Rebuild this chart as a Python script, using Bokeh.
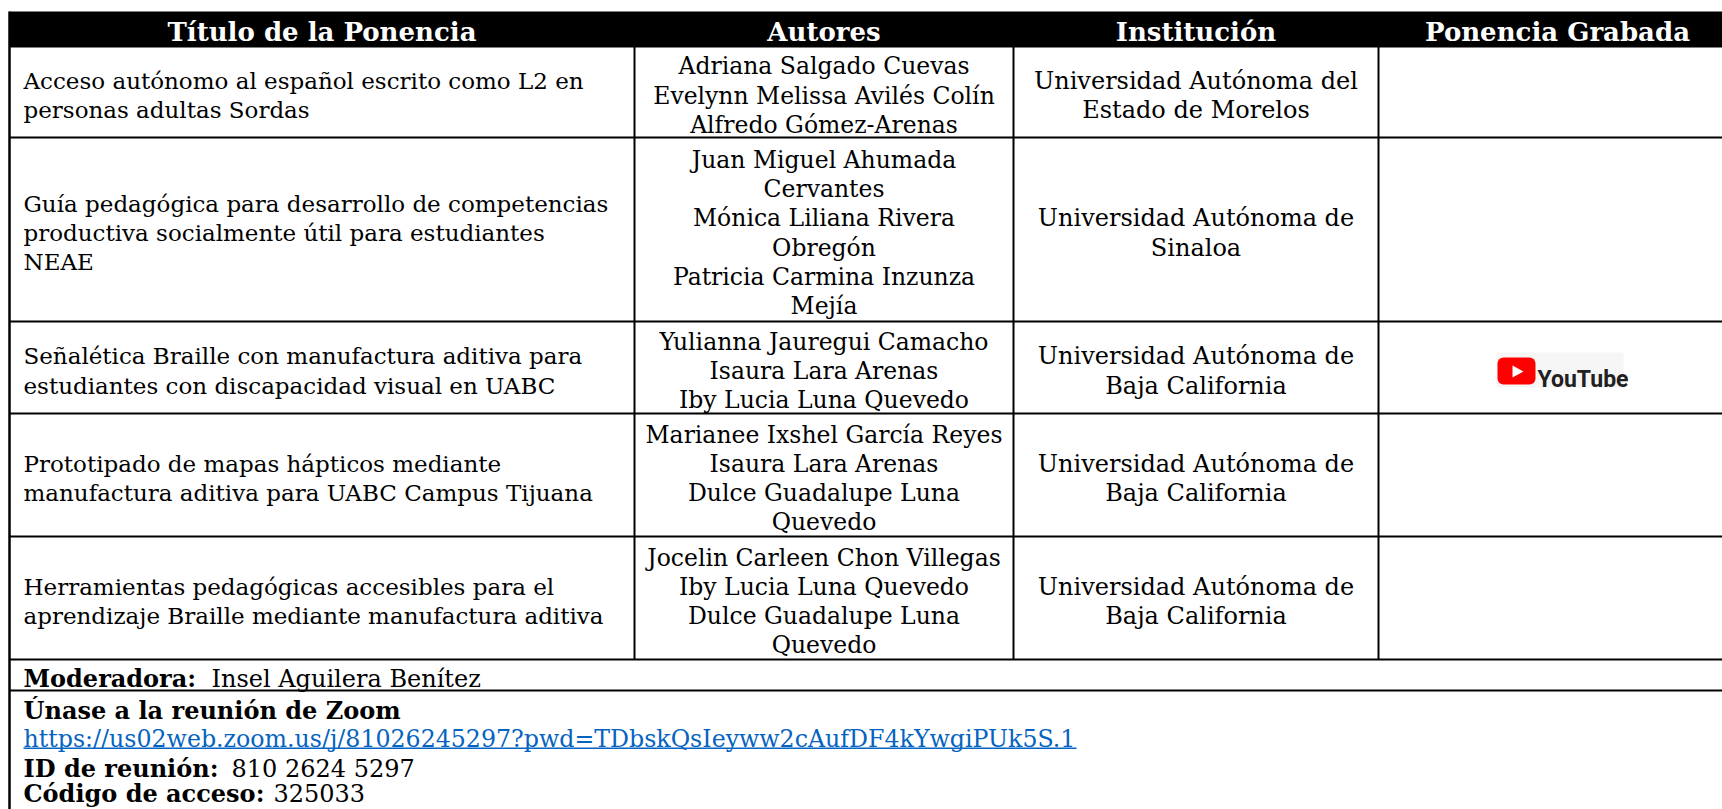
from bokeh.plotting import figure
from bokeh.models import Range1d, ColumnDataSource
from bokeh.core.properties import value
from bokeh.embed import file_html
from bokeh.resources import INLINE

# ---------------- data ----------------
headers = ["Título de la Ponencia", "Autores", "Institución", "Ponencia Grabada"]

titles = [
    ["Acceso autónomo al español escrito como L2 en", "personas adultas Sordas"],
    ["Guía pedagógica para desarrollo de competencias",
     "productiva socialmente útil para estudiantes", "NEAE"],
    ["Señalética Braille con manufactura aditiva para",
     "estudiantes con discapacidad visual en UABC"],
    ["Prototipado de mapas hápticos mediante",
     "manufactura aditiva para UABC Campus Tijuana"],
    ["Herramientas pedagógicas accesibles para el",
     "aprendizaje Braille mediante manufactura aditiva"],
]

authors = [
    ["Adriana Salgado Cuevas", "Evelynn Melissa Avilés Colín", "Alfredo Gómez-Arenas"],
    ["Juan Miguel Ahumada", "Cervantes", "Mónica Liliana Rivera", "Obregón",
     "Patricia Carmina Inzunza", "Mejía"],
    ["Yulianna Jauregui Camacho", "Isaura Lara Arenas", "Iby Lucia Luna Quevedo"],
    ["Marianee Ixshel García Reyes", "Isaura Lara Arenas", "Dulce Guadalupe Luna", "Quevedo"],
    ["Jocelin Carleen Chon Villegas", "Iby Lucia Luna Quevedo", "Dulce Guadalupe Luna", "Quevedo"],
]

institutions = [
    ["Universidad Autónoma del", "Estado de Morelos"],
    ["Universidad Autónoma de", "Sinaloa"],
    ["Universidad Autónoma de", "Baja California"],
    ["Universidad Autónoma de", "Baja California"],
    ["Universidad Autónoma de", "Baja California"],
]

recorded = [False, False, True, False, False]

moderator_label = "Moderadora:"
moderator_name = "Insel Aguilera Benítez"
join_label = "Únase a la reunión de Zoom"
join_link = "https://us02web.zoom.us/j/81026245297?pwd=TDbskQsIeyww2cAufDF4kYwgiPUk5S.1"
id_label = "ID de reunión:"
id_value = "810 2624 5297"
code_label = "Código de acceso:"
code_value = "325033"

# ---------------- layout ----------------
W, H = 1722, 809
FONT = value("DejaVu Serif")
TITLE_SIZE = "23px"
AUTH_SIZE = "23.5px"
INST_SIZE = "24px"
BODY = "24px"
BOLD = "24px"
HEAD = "26px"
LINK_SIZE = "23.7px"
LINE = 29.3
OFF = 10          # baseline below line-box centre
SHIFT = 6.5       # rendering correction for alphabetic baseline
COLS = [9, 634, 1013, 1378, 1736]
ROWS = [11, 46, 137, 321, 413, 536, 659, 690]
BOTTOM = 830
LINK_BLUE = "#0563C1"

p = figure(width=W, height=H, x_range=Range1d(0, W), y_range=Range1d(H, 0),
           toolbar_location=None, output_backend="svg", min_border=0,
           x_axis_location=None, y_axis_location=None)
p.grid.visible = False
p.outline_line_color = None
p.background_fill_color = "white"
p.border_fill_color = "white"

# header band
p.quad(left=[COLS[0]], right=[COLS[-1]], top=[ROWS[0]], bottom=[ROWS[1]],
       fill_color="black", line_color=None)
hx = [(COLS[i] + COLS[i + 1]) / 2 for i in range(4)]
hy = [(ROWS[0] + ROWS[1]) / 2 + 9.5 - SHIFT] * 4
p.text(x=hx, y=hy, text=headers, text_font=FONT, text_font_size=HEAD,
       text_font_style="bold", text_color="white", text_align="center",
       text_baseline="alphabetic")


def lines_for(cells, xpos):
    xs, ys, ts = [], [], []
    for r, cell in enumerate(cells):
        top, bot = ROWS[r + 1], ROWS[r + 2]
        c = (top + bot) / 2
        n = len(cell)
        for i, t in enumerate(cell):
            xs.append(xpos)
            ys.append(c + (i - (n - 1) / 2) * LINE + OFF - SHIFT)
            ts.append(t)
    return ColumnDataSource(dict(x=xs, y=ys, t=ts))


p.text(x="x", y="y", text="t", source=lines_for(titles, COLS[0] + 14),
       text_font=FONT, text_font_size=TITLE_SIZE, text_align="left",
       text_baseline="alphabetic", text_color="black")
p.text(x="x", y="y", text="t", source=lines_for(authors, hx[1]),
       text_font=FONT, text_font_size=AUTH_SIZE, text_align="center",
       text_baseline="alphabetic", text_color="black")
p.text(x="x", y="y", text="t", source=lines_for(institutions, hx[2]),
       text_font=FONT, text_font_size=INST_SIZE, text_align="center",
       text_baseline="alphabetic", text_color="black")

# YouTube logos
for r, rec in enumerate(recorded):
    if not rec:
        continue
    cx = hx[3]
    cy = (ROWS[r + 1] + ROWS[r + 2]) / 2
    p.quad(left=[cx - 61], right=[cx + 66], top=[cy - 15], bottom=[cy + 20],
           fill_color="#F6F6F6", line_color=None)
    p.quad(left=[cx - 60], right=[cx - 22], top=[cy - 10], bottom=[cy + 17],
           fill_color="#FF0000", line_color=None, border_radius=6)
    p.patch(x=[cx - 45, cx - 45, cx - 34], y=[cy - 2, cy + 10, cy + 4],
            fill_color="white", line_color=None)
    p.text(x=[cx - 20], y=[cy + 16 - 4], text=["YouTube"],
           text_font=value("Roboto"), text_font_size="23px",
           text_font_style="bold", text_color="#212121", text_align="left",
           text_baseline="alphabetic")

# grid lines
hl = ROWS[1:]
p.segment(x0=[COLS[0]] * len(hl), x1=[COLS[-1]] * len(hl), y0=hl, y1=hl,
          line_color="black", line_width=2)
p.segment(x0=[COLS[0]], x1=[COLS[0]], y0=[ROWS[0]], y1=[BOTTOM],
          line_color="black", line_width=2.5)
p.segment(x0=COLS[1:4], x1=COLS[1:4], y0=[ROWS[1]] * 3, y1=[ROWS[6]] * 3,
          line_color="black", line_width=2)

# footer block
tx = COLS[0] + 14
mod_base = (ROWS[6] + ROWS[7]) / 2 + OFF
b0 = ROWS[7] + 26
bases = [b0, b0 + LINE, b0 + 2 * LINE, b0 + 3 * LINE - 4.5]
p.text(x=[tx, tx, tx, tx],
       y=[mod_base - SHIFT, bases[0] - SHIFT, bases[2] - SHIFT, bases[3] - SHIFT],
       text=[moderator_label, join_label, id_label, code_label],
       text_font=FONT, text_font_size=BOLD, text_font_style="bold",
       text_color="black", text_align="left", text_baseline="alphabetic")
p.text(x=[211, 231, 273],
       y=[mod_base - SHIFT, bases[2] - SHIFT, bases[3] - SHIFT],
       text=[moderator_name, id_value, code_value],
       text_font=FONT, text_font_size=BODY, text_color="black",
       text_align="left", text_baseline="alphabetic")
p.text(x=[tx], y=[bases[1] - SHIFT], text=[join_link],
       text_font=FONT, text_font_size=LINK_SIZE, text_color=LINK_BLUE,
       text_align="left", text_baseline="alphabetic")
p.segment(x0=[tx], x1=[1076], y0=[bases[1] + 2.5], y1=[bases[1] + 2.5],
          line_color=LINK_BLUE, line_width=1.5)

open("out.html", "w").write(file_html(p, INLINE))
